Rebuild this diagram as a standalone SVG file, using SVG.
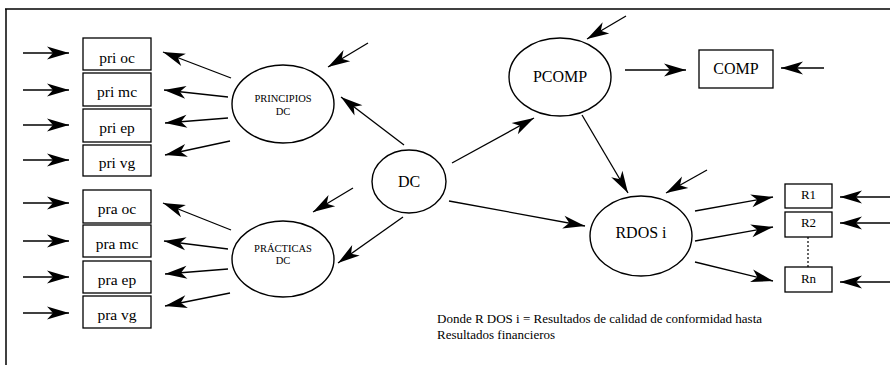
<svg xmlns="http://www.w3.org/2000/svg" width="890" height="365" viewBox="0 0 890 365">
<style>
.bx{fill:#fff;stroke:#000;stroke-width:1.3}
.el{fill:#fff;stroke:#000;stroke-width:1.4}
text{font-family:'Liberation Serif','DejaVu Serif',serif;fill:#000}
.t{text-anchor:middle}
.bt{font-size:15.5px}
.big{font-size:16px}
.sm{font-size:10.5px}
.rt{font-size:13px}
.cap{font-size:13px}
.c line{stroke:#000;stroke-width:1.3;marker-end:url(#ah)}
</style>
<defs>
<marker id="ah" markerUnits="userSpaceOnUse" viewBox="-23 -7 24 14" refX="0" refY="0" markerWidth="24" markerHeight="14" orient="auto">
<path d="M0,0 L-22,-6.5 L-16,0 L-22,6.5 z" fill="#000"/>
</marker>
</defs>
<rect width="890" height="365" fill="#fff"/>
<g id="frame" stroke="#000" stroke-width="1.5">
<line x1="5" y1="9" x2="890" y2="9"/>
<line x1="6" y1="9" x2="6" y2="365"/>
</g>
<g font-family="Liberation Serif, serif">
<g id="prioc"><rect class="bx" x="83" y="38" width="68" height="32"/><text class="t bt" x="117" y="63">pri oc</text></g>
<g id="primc"><rect class="bx" x="83" y="73" width="68" height="33"/><text class="t bt" x="117" y="97">pri mc</text></g>
<g id="priep"><rect class="bx" x="83" y="109" width="68" height="33"/><text class="t bt" x="117" y="133">pri ep</text></g>
<g id="privg"><rect class="bx" x="83" y="145" width="68" height="31"/><text class="t bt" x="117" y="168">pri vg</text></g>
<g id="praoc"><rect class="bx" x="83" y="190" width="68" height="33"/><text class="t bt" x="117" y="214">pra oc</text></g>
<g id="pramc"><rect class="bx" x="83" y="225" width="68" height="32"/><text class="t bt" x="117" y="249">pra mc</text></g>
<g id="praep"><rect class="bx" x="83" y="261" width="68" height="32"/><text class="t bt" x="117" y="285">pra ep</text></g>
<g id="pravg"><rect class="bx" x="83" y="296" width="68" height="32"/><text class="t bt" x="117" y="320">pra vg</text></g>
<g id="principios"><ellipse class="el" cx="283" cy="104" rx="51" ry="39"/><text class="t sm" x="283" y="102">PRINCIPIOS</text><text class="t sm" x="283" y="115">DC</text></g>
<g id="practicas"><ellipse class="el" cx="283" cy="259" rx="51" ry="38"/><text class="t sm" x="283" y="252">PRÁCTICAS</text><text class="t sm" x="283" y="264">DC</text></g>
<g id="dc"><ellipse class="el" cx="409" cy="181.5" rx="37" ry="31.5"/><text class="t big" x="409" y="187">DC</text></g>
<g id="pcomp"><ellipse class="el" cx="560" cy="77" rx="51" ry="39"/><text class="t big" x="560" y="82">PCOMP</text></g>
<g id="comp"><rect class="bx" x="699" y="50" width="74" height="38"/><text class="t big" x="736" y="74">COMP</text></g>
<g id="rdos"><ellipse class="el" cx="641" cy="236" rx="51" ry="40"/><text class="t big" x="641" y="238">RDOS i</text></g>
<g id="r1"><rect class="bx" x="785" y="184" width="47" height="24"/><text class="t rt" x="808.5" y="199">R1</text></g>
<g id="r2"><rect class="bx" x="785" y="212" width="47" height="25"/><text class="t rt" x="808.5" y="227">R2</text></g>
<g id="rn"><rect class="bx" x="785" y="267" width="47" height="25"/><text class="t rt" x="808.5" y="283">Rn</text></g>
</g>
<g id="connectors" class="c">
<line x1="23" y1="53" x2="69" y2="53"/>
<line x1="23" y1="90" x2="69" y2="90"/>
<line x1="23" y1="125" x2="69" y2="125"/>
<line x1="23" y1="160" x2="69" y2="160"/>
<line x1="23" y1="203" x2="69" y2="203"/>
<line x1="23" y1="241" x2="69" y2="241"/>
<line x1="23" y1="277" x2="69" y2="277"/>
<line x1="23" y1="313" x2="69" y2="313"/>
<line x1="231" y1="78" x2="163" y2="52"/>
<line x1="228" y1="97" x2="164" y2="90"/>
<line x1="228" y1="118" x2="165" y2="123"/>
<line x1="230" y1="141" x2="165" y2="155"/>
<line x1="231" y1="230" x2="163" y2="203"/>
<line x1="228" y1="249" x2="164" y2="241"/>
<line x1="228" y1="269" x2="165" y2="274"/>
<line x1="230" y1="293" x2="165" y2="306"/>
<line x1="368" y1="43" x2="328" y2="67"/>
<line x1="404" y1="145" x2="341" y2="97"/>
<line x1="353" y1="188" x2="313" y2="212"/>
<line x1="403" y1="217" x2="338" y2="263"/>
<line x1="452" y1="163" x2="534" y2="118"/>
<line x1="449" y1="201" x2="585" y2="226"/>
<line x1="626" y1="16" x2="587" y2="39"/>
<line x1="625" y1="70" x2="686" y2="70"/>
<line x1="824" y1="68" x2="781" y2="68"/>
<line x1="582" y1="115" x2="628" y2="193"/>
<line x1="707" y1="170" x2="666" y2="193"/>
<line x1="695" y1="211" x2="773" y2="197"/>
<line x1="695" y1="241" x2="773" y2="227"/>
<line x1="695" y1="262" x2="773" y2="281"/>
<line x1="890" y1="197" x2="840" y2="197"/>
<line x1="890" y1="223" x2="840" y2="223"/>
<line x1="890" y1="282" x2="840" y2="282"/>
</g>
<line x1="808" y1="237" x2="808" y2="267" stroke="#000" stroke-width="1.2" stroke-dasharray="2,2"/>
<text class="cap" x="437" y="323" font-family="Liberation Serif, serif">Donde R DOS i = Resultados de calidad de conformidad hasta</text>
<text class="cap" x="437" y="339" font-family="Liberation Serif, serif">Resultados financieros</text>
</svg>
